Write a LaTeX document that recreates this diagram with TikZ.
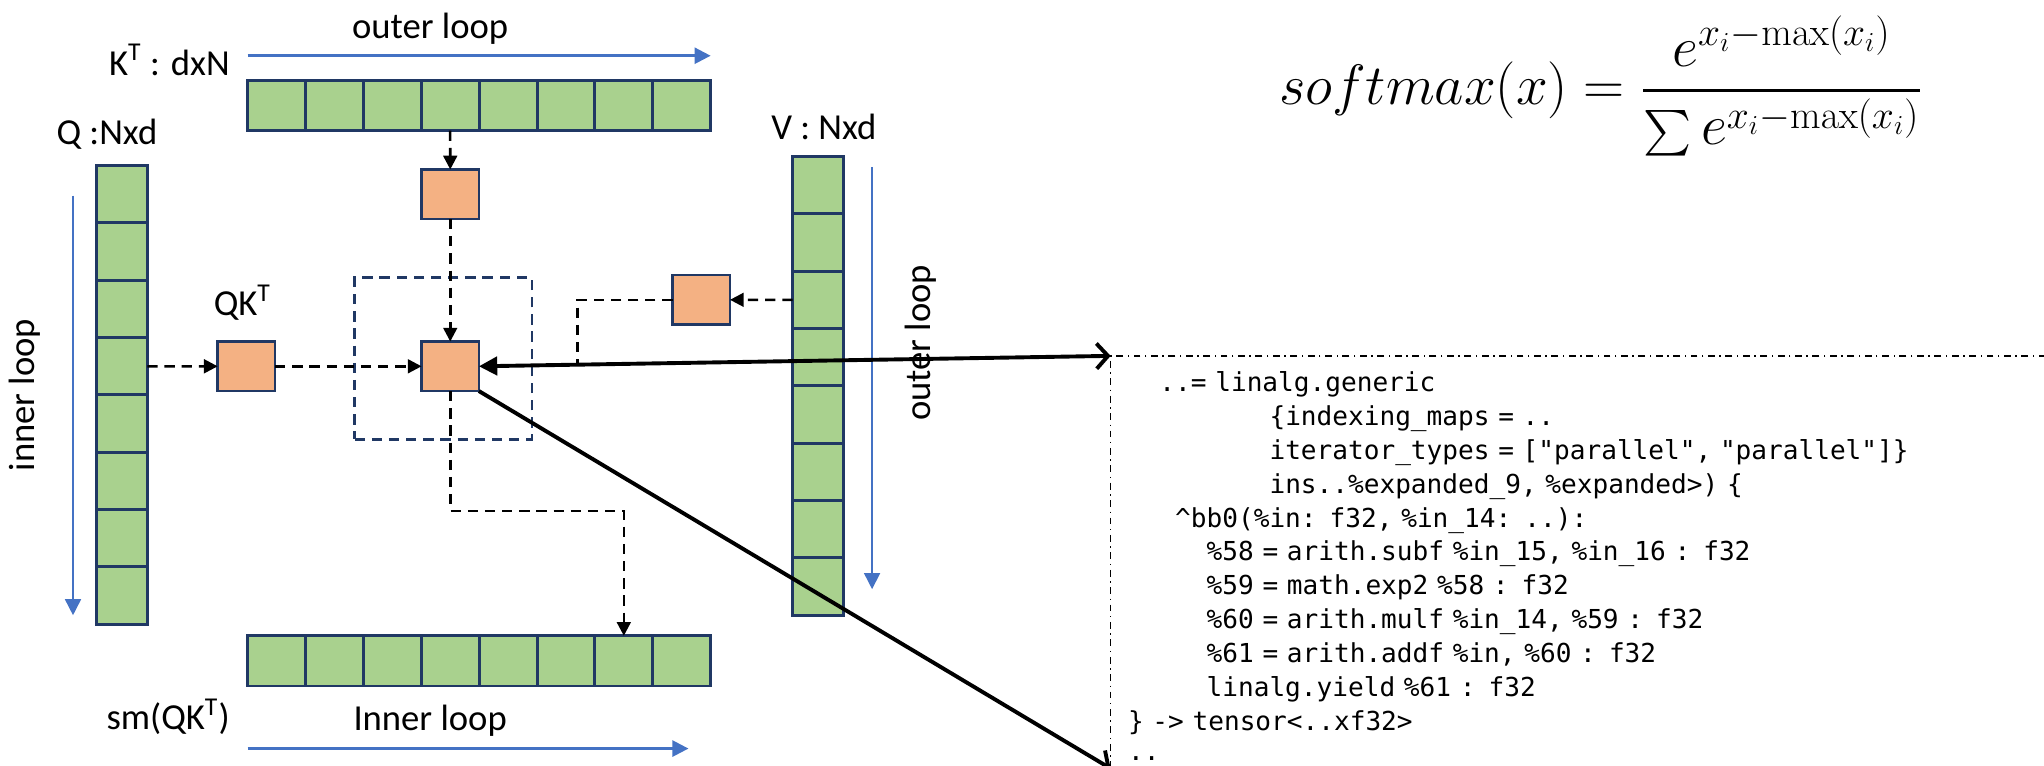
\documentclass[tikz,border=0pt]{standalone}
\usepackage{amsmath,graphicx}
\usepackage[no-math]{fontspec}
\setmainfont{Carlito}
\newfontfamily\codefont{DejaVu Sans Mono}
\usetikzlibrary{positioning,arrows.meta}
\definecolor{CellGreen}{HTML}{A9D18E}
\definecolor{TileOrange}{HTML}{F4B183}
\definecolor{EdgeNavy}{HTML}{203864}
\definecolor{LoopBlue}{HTML}{4472C4}
% indentation in code lines, counted in characters
\newcommand\codeind[1]{\hspace*{#1\fontcharwd\font`0}}
% word spaces as wide as one character
\protected\def\codespacing{\spaceskip=\fontcharwd\font`0\relax}

\begin{document}
\begin{tikzpicture}[x=0.02cm, y=-0.02cm,
    hcell/.style={rectangle, draw=EdgeNavy, line width=1.3pt, fill=CellGreen,
        minimum width=0.888cm, minimum height=0.77cm, inner sep=0pt, outer sep=0pt},
    vcell/.style={hcell, minimum width=0.78cm, minimum height=0.88cm},
    tile/.style={rectangle, draw=EdgeNavy, line width=1.2pt, fill=TileOrange,
        minimum width=0.88cm, minimum height=0.76cm, inner sep=0pt, outer sep=0pt},
    window/.style={rectangle, draw=EdgeNavy, line width=1.1pt, dash pattern=on 4.5pt off 3pt,
        minimum width=2.72cm, minimum height=2.48cm},
    lbl/.style={font=\fontsize{16}{19}\selectfont, inner sep=0pt},
    dashflow/.style={line width=1.1pt, dash pattern=on 4.5pt off 3pt, -{Triangle[length=6pt,width=6pt]}},
    link/.style={line width=1.7pt},
    looparrow/.style={draw=LoopBlue, line width=1.1pt, -{Triangle[length=7pt,width=7pt]}},
    codebox/.style={anchor=north west, minimum width=14.6cm, minimum height=6.22cm,
        inner xsep=0.26cm, text width=14.08cm, align=left,
        font=\codefont\fontsize{11.4}{14.8}\selectfont\codespacing}
]
\useasboundingbox (0,0) rectangle (1568,587);

% K^T row
\node[hcell] (k1) at (212.2,81) {};
\foreach \i [count=\j from 2] in {1,...,7}
    \node[hcell, right=0pt of k\i] (k\j) {};
% Q column
\node[vcell] (q1) at (93.5,149) {};
\foreach \i [count=\j from 2] in {1,...,7}
    \node[vcell, below=0pt of q\i] (q\j) {};
% V column
\node[vcell] (v1) at (627.5,142) {};
\foreach \i [count=\j from 2] in {1,...,7}
    \node[vcell, below=0pt of v\i] (v\j) {};
% softmax output row
\node[hcell] (s1) at (212.2,507) {};
\foreach \i [count=\j from 2] in {1,...,7}
    \node[hcell, right=0pt of s\i] (s\j) {};

% tiles
\node[window] (win) at (340,275) {};
\node[tile] (kt) at (345.4,149) {};
\node[tile] (ctr) at (345.4,281) {};
\node[tile] (qk) at (189,281) {};
\node[tile] (vt) at (538,230) {};

% labels
\node[lbl] (outerlbl) at (330,22) {outer loop};
\node[lbl] (klbl) at (130,46) {K\textsuperscript{T} : dxN};
\node[lbl] (qlbl) at (82,103) {Q :Nxd};
\node[lbl] (qklbl) at (186,232) {QK\textsuperscript{T}};
\node[lbl] (vlbl) at (632,97) {V : Nxd};
\node[lbl, rotate=90] (innerv) at (19,303) {inner loop};
\node[lbl, rotate=90] (outerv) at (706,263) {outer loop};
\node[lbl] (smlbl) at (129,550) {sm(QK\textsuperscript{T})};
\node[lbl] (innerlbl) at (330,553) {Inner loop};

% formula
\node[font=\fontsize{23.5}{28}\selectfont] (eq) at (1228,66)
    {$\displaystyle softmax(x) = \frac{e^{x_i-\max(x_i)}}{\mathop{\scalebox{0.8}{$\sum$}} e^{x_i-\max(x_i)}}$};

% loop directions
\draw[looparrow] ([yshift=0.38cm]k1.north west) -- ([yshift=0.38cm]k8.north east);
\draw[looparrow] ([yshift=-0.96cm]s1.south west) -- ([yshift=-0.96cm, xshift=-0.34cm]s8.south east);
\draw[looparrow, line width=0.7pt] ([xshift=-0.36cm, yshift=-0.46cm]q1.north west) -- ([xshift=-0.36cm, yshift=0.14cm]q8.south west);
\draw[looparrow, line width=0.7pt] ([xshift=0.44cm, yshift=-0.16cm]v1.north east) -- ([xshift=0.44cm, yshift=0.4cm]v8.south east);

% generated code
\node[codebox] (code) at (852,273) {%
\rule{0pt}{12pt}\codeind{2}..= linalg.generic\\
\codeind{9}\{indexing\_maps = ..\\
\codeind{9}iterator\_types = ["parallel", "parallel"]\}\\
\codeind{9}ins..\%expanded\_9, \%expanded>) \{\\
\codeind{3}\textasciicircum bb0(\%in: f32, \%in\_14: ..):\\
\codeind{5}\%58 = arith.subf \%in\_15, \%in\_16 : f32\\
\codeind{5}\%59 = math.exp2 \%58 : f32\\
\codeind{5}\%60 = arith.mulf \%in\_14, \%59 : f32\\
\codeind{5}\%61 = arith.addf \%in, \%60 : f32\\
\codeind{5}linalg.yield \%61 : f32\\
\} -> tensor<..xf32>\\[-1.7pt]
..};
\draw[line width=0.6pt, dash pattern=on 3pt off 2pt on 0.6pt off 2pt]
    (code.north east) -- (code.north west) -- (code.south west);
\draw[gray!45, line width=0.6pt, dashed] (code.south west) -- (code.south east);

% data flow
\draw[dashflow] (k4.south) -- (kt.north);
\draw[dashflow] (kt.south) -- (ctr.north);
\draw[dashflow] (q4.east) -- (qk.west);
\draw[dashflow] (qk.east) -- (ctr.west);
\draw[dashflow] (v3.west) -- (vt.east);
\coordinate (vjoin) at (443,280);
\draw[dashflow, -] (vt.west) -| (vjoin);
\draw[dashflow] (ctr.south) -- ++(0,92) -| (s7.north);
\draw[link, {Triangle[length=8pt,width=8pt]}-{Straight Barb[length=5pt,width=11pt]}] (ctr.east) -- (code.north west);
\draw[link, -{Straight Barb[length=5pt,width=11pt]}] (ctr.south east) -- (code.south west);
\end{tikzpicture}
\end{document}
